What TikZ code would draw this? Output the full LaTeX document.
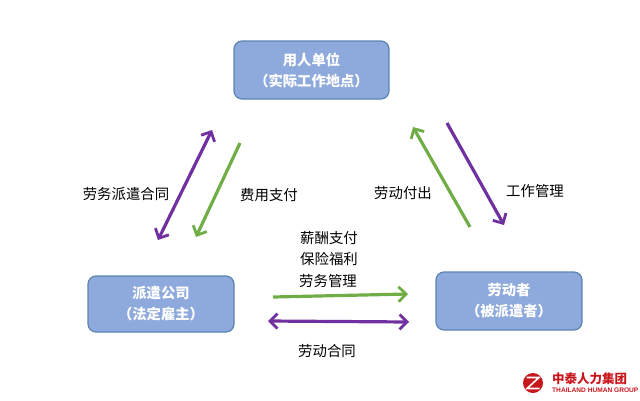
\documentclass[tikz,border=0pt]{standalone}
\usepackage{fontspec}
\setmainfont{Noto Sans CJK SC}
\setsansfont{Liberation Sans}
\usetikzlibrary{arrows.meta}
\definecolor{boxfill}{HTML}{8EA9DB}
\definecolor{boxline}{HTML}{5B85B0}
\definecolor{pur}{HTML}{7030A0}
\definecolor{grn}{HTML}{70AD47}
\definecolor{logored}{HTML}{C8161D}
\tikzset{
  party/.style={draw=boxline,line width=1.2pt,fill=boxfill,rounded corners=8pt,text=white,align=center,font=\fontsize{14.3}{21}\selectfont\bfseries,minimum width=#1,inner sep=0pt},
  lab/.style={font=\fontsize{14.4}{16}\selectfont,text=black,inner sep=0pt},
  flow/.style={line width=3.2pt,-{Straight Barb[length=7.5pt,width=15pt,line width=2.8pt]}},
  bothflow/.style={line width=3.2pt,{Straight Barb[length=7.5pt,width=15pt,line width=2.8pt]}-{Straight Barb[length=7.5pt,width=15pt,line width=2.8pt]}}
}
\begin{document}
\begin{tikzpicture}[x=1pt,y=-1pt]
\useasboundingbox (0,0) rectangle (640,400);
\node[party=155pt,minimum height=58pt] (user) at (311.5,70) {用人单位\\（实际工作地点）};
\node[party=146pt,minimum height=56pt] (agency) at (161,304) {派遣公司\\（法定雇主）};
\node[party=146pt,minimum height=58pt] (worker) at (509,301) {劳动者\\（被派遣者）};

\coordinate (a1) at (212,130); \coordinate (a2) at (158,240);
\coordinate (b1) at (240,143); \coordinate (b2) at (196,237);
\coordinate (c1) at (470,227); \coordinate (c2) at (413,127);
\coordinate (d1) at (447,123); \coordinate (d2) at (504,225);
\coordinate (e1) at (273,297); \coordinate (e2) at (408,294);
\coordinate (f1) at (268,321); \coordinate (f2) at (409,322);

\draw[bothflow,pur] (a1) -- (a2);
\draw[flow,grn] (b1) -- (b2);
\draw[flow,grn] (c1) -- (c2);
\draw[flow,pur] (d1) -- (d2);
\draw[flow,grn] (e1) -- (e2);
\draw[bothflow,pur] (f1) -- (f2);

\node[lab] (l1) at (126,194) {劳务派遣合同};
\node[lab] (l2) at (269,195) {费用支付};
\node[lab] (l3) at (403,193) {劳动付出};
\node[lab] (l4) at (535,191) {工作管理};
\node[lab] (l5) at (329,238) {薪酬支付};
\node[lab] (l6) at (329,259) {保险福利};
\node[lab] (l7) at (328,281) {劳务管理};
\node[lab] (l8) at (327,351) {劳动合同};

\fill[logored] (533,383) circle (10pt);
\draw[white,line width=1.6pt] (526.5,377.5) -- (539,377.5) -- (527,388.5) -- (539.5,388.5);
\node[inner sep=0pt,anchor=west,text=logored,font=\fontsize{12.5}{14}\selectfont\bfseries] (logo1) at (552,379) {中泰人力集团};
\node[inner sep=0pt,anchor=west,text=logored,font=\sffamily\fontsize{6.6}{8}\selectfont\bfseries] (logo2) at (552,390) {THAILAND HUMAN GROUP};
\end{tikzpicture}
\end{document}
